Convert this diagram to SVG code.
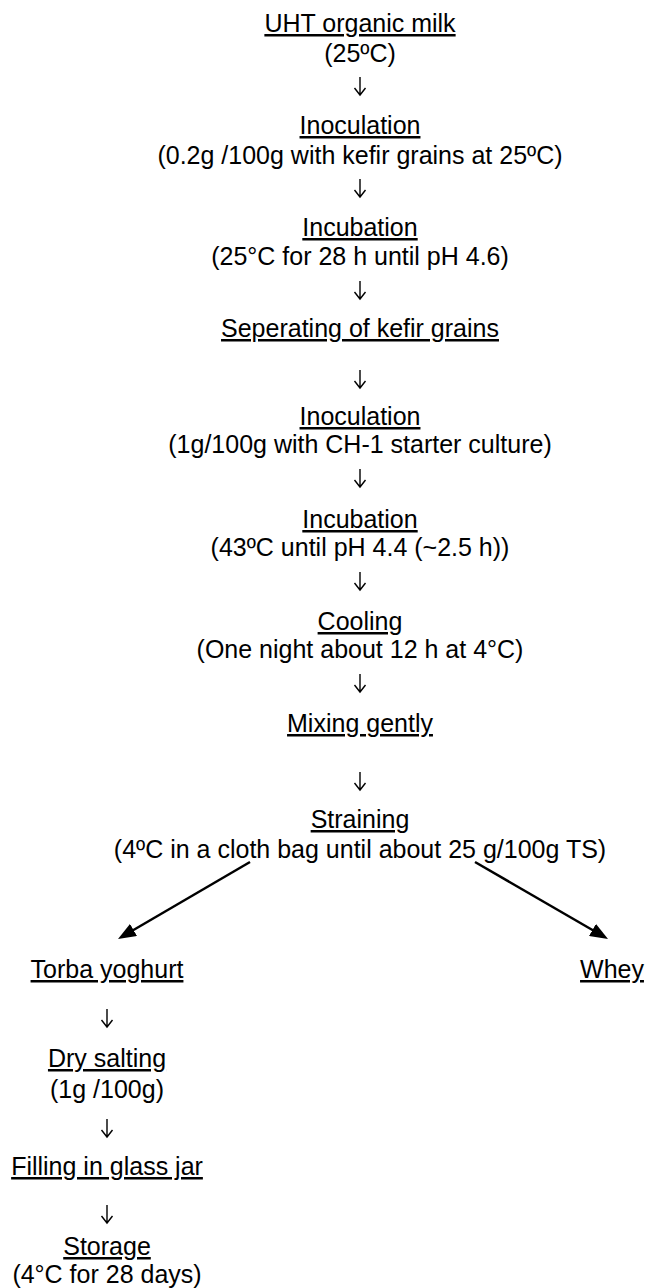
<svg xmlns="http://www.w3.org/2000/svg" width="649" height="1288" viewBox="0 0 649 1288">
<style>
text{font-family:"Liberation Sans",Arial,sans-serif;font-size:25px;fill:#000;text-anchor:middle}
.u{text-decoration:underline}
.da{stroke:#000;stroke-width:1.4;fill:none;stroke-linejoin:miter}
.dl{stroke:#000;stroke-width:2.5;fill:none;marker-end:url(#ah)}
</style>
<defs>
<marker id="ah" viewBox="0 0 18 14" refX="10" refY="7" markerWidth="18" markerHeight="14" markerUnits="userSpaceOnUse" orient="auto">
<path d="M0,0 L18,7 L0,14 z" fill="#000"/>
</marker>
<path id="down" d="M0,0 V18 M-5.5,11 L0,18 L5.5,11"/>
</defs>
<rect width="649" height="1288" fill="#fff"/>
<g id="n1"><text x="360" y="32" class="u">UHT organic milk</text><text x="360" y="62">(25ºC)</text></g>
<g id="n2"><text x="360" y="134" class="u">Inoculation</text><text x="360" y="164">(0.2g /100g with kefir grains at 25ºC)</text></g>
<g id="n3"><text x="360" y="236" class="u">Incubation</text><text x="360" y="265">(25°C for 28 h until pH 4.6)</text></g>
<g id="n4"><text x="360" y="337" class="u">Seperating of kefir grains</text></g>
<g id="n5"><text x="360" y="425" class="u">Inoculation</text><text x="360" y="453">(1g/100g with CH-1 starter culture)</text></g>
<g id="n6"><text x="360" y="528" class="u">Incubation</text><text x="360" y="556">(43ºC until pH 4.4 (~2.5 h))</text></g>
<g id="n7"><text x="360" y="630" class="u">Cooling</text><text x="360" y="658">(One night about 12 h at 4°C)</text></g>
<g id="n8"><text x="360" y="732" class="u">Mixing gently</text></g>
<g id="n9"><text x="360" y="828" class="u">Straining</text><text x="360" y="858">(4ºC in a cloth bag until about 25 g/100g TS)</text></g>
<g id="n10"><text x="107" y="978" class="u">Torba yoghurt</text></g>
<g id="n11"><text x="612" y="978" class="u">Whey</text></g>
<g id="n12"><text x="107" y="1067" class="u">Dry salting</text><text x="107" y="1098">(1g /100g)</text></g>
<g id="n13"><text x="107" y="1175" class="u">Filling in glass jar</text></g>
<g id="n14"><text x="107" y="1255" class="u">Storage</text><text x="107" y="1283">(4°C for 28 days)</text></g>
<g id="connectors">
<use href="#down" class="da" x="360" y="77"/>
<use href="#down" class="da" x="360" y="179"/>
<use href="#down" class="da" x="360" y="281"/>
<use href="#down" class="da" x="360" y="370"/>
<use href="#down" class="da" x="360" y="469"/>
<use href="#down" class="da" x="360" y="572"/>
<use href="#down" class="da" x="360" y="674"/>
<use href="#down" class="da" x="360" y="772"/>
<use href="#down" class="da" x="107" y="1009"/>
<use href="#down" class="da" x="107" y="1119"/>
<use href="#down" class="da" x="107" y="1205"/>
<line class="dl" x1="250" y1="862" x2="124.9" y2="935"/>
<line class="dl" x1="475" y1="862" x2="601.1" y2="935"/>
</g>
</svg>
